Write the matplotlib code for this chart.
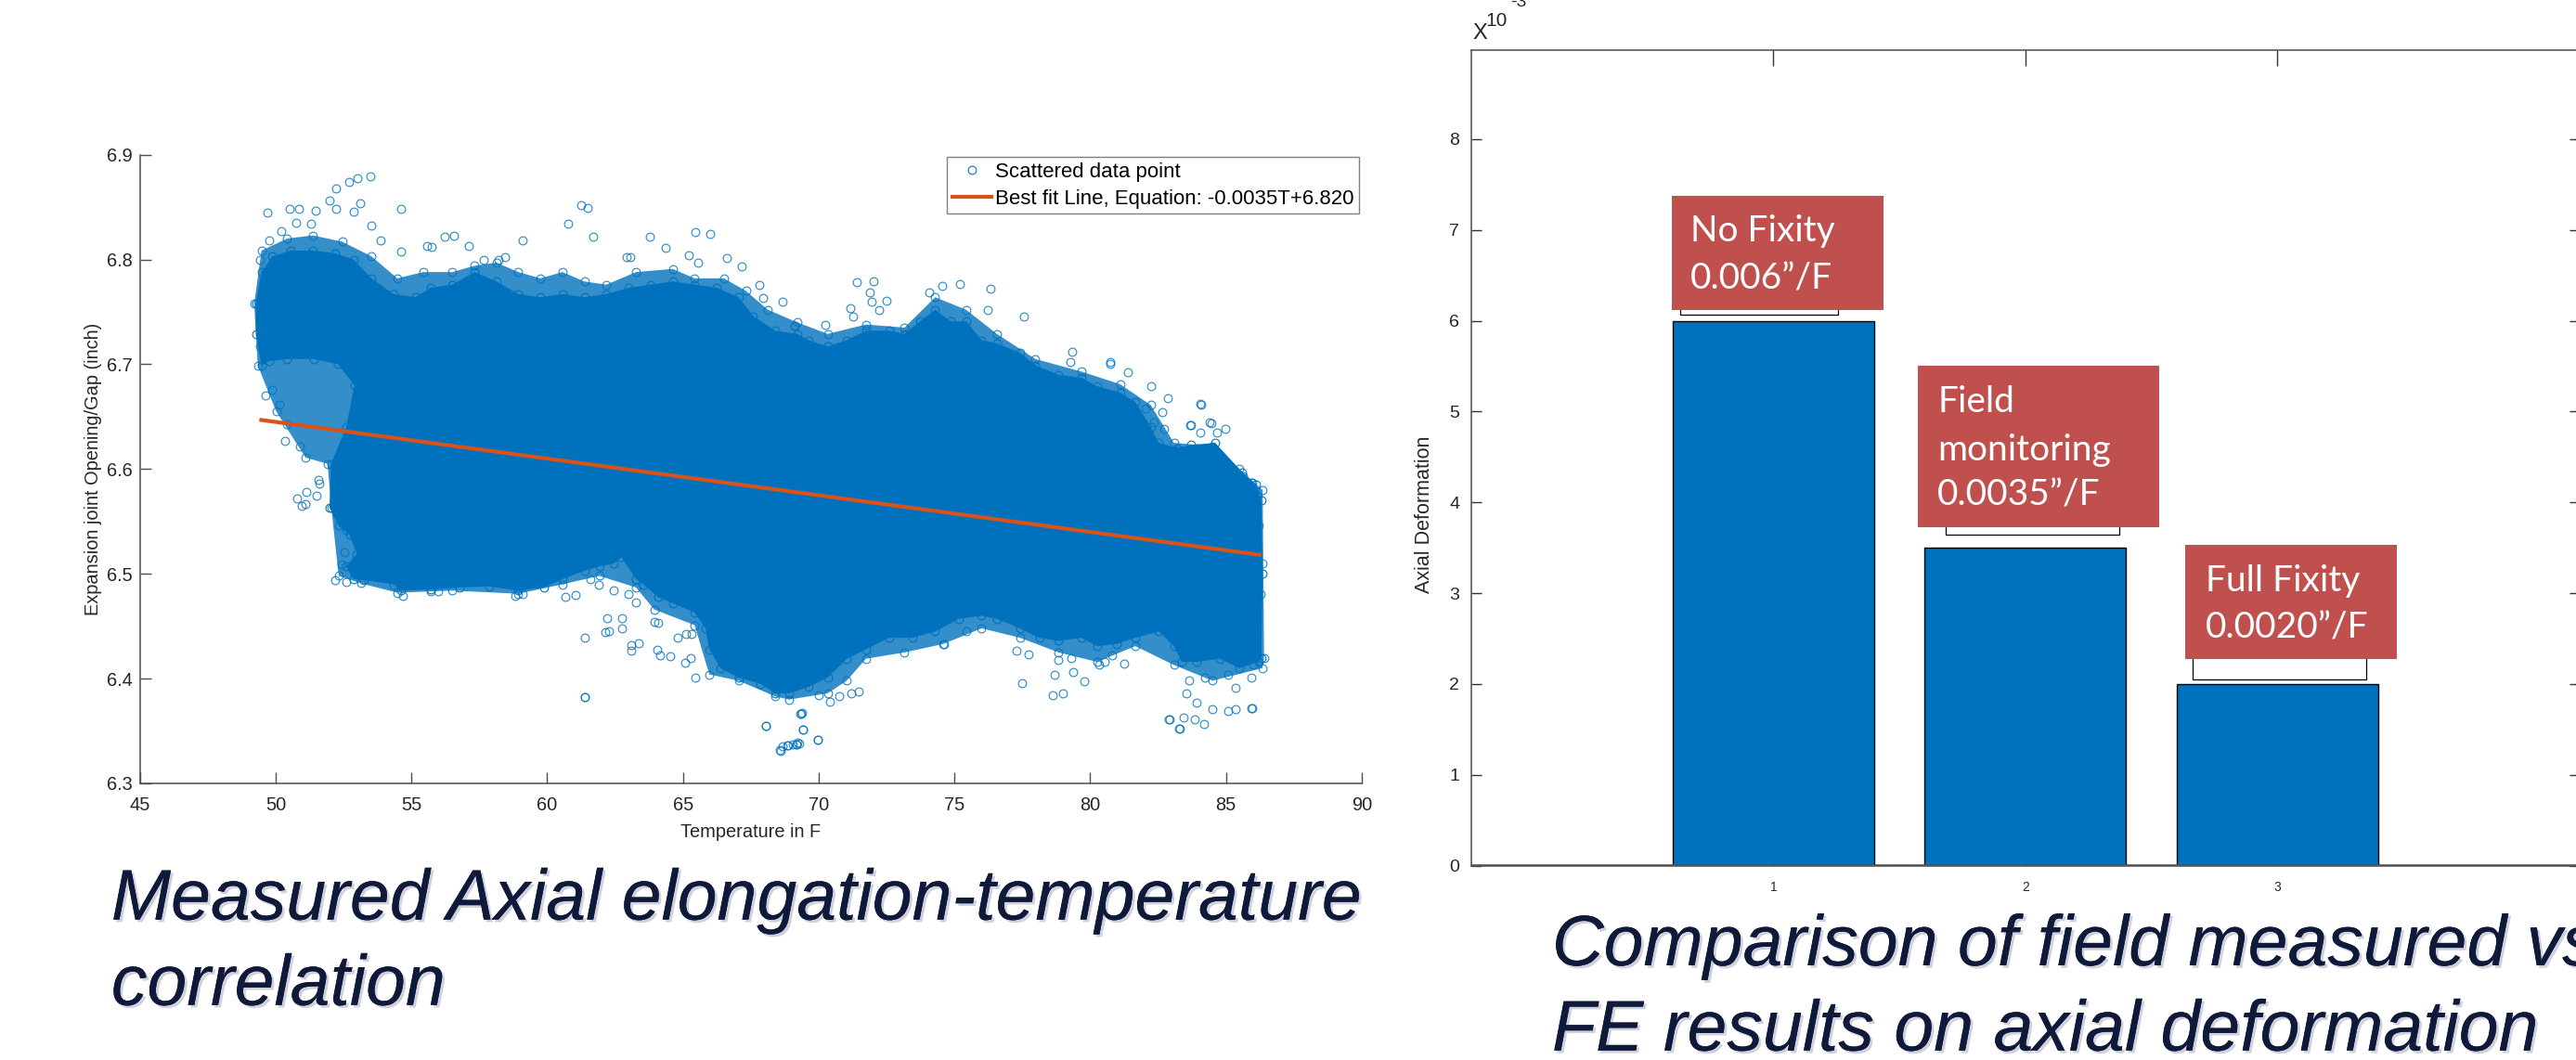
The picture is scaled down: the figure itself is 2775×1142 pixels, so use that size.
import matplotlib
matplotlib.use("Agg")
import matplotlib.pyplot as plt
import matplotlib.patches as mpatches
import matplotlib.patheffects as pe
from matplotlib.lines import Line2D
from matplotlib import font_manager
import numpy as np

names = {f.name for f in font_manager.fontManager.ttflist}
SANS = "Liberation Sans" if "Liberation Sans" in names else "DejaVu Sans"
NARROW = "Liberation Sans Narrow" if "Liberation Sans Narrow" in names else SANS
BOXFONT = "Lato" if "Lato" in names else SANS

BLUE = "#0072BD"
ORANGE = "#D95319"
RED_BOX = "#C0504D"
NAVY = "#0F1A3B"
AX_COL = "#262626"

# ---------------- left chart data ----------------
# outline of the solid (dense) part of the point cloud, clockwise
cloud_T = [49.48, 49.27, 49.27, 49.48, 49.88, 50.56, 51.37, 52.18, 52.86, 53.53,
           54.34, 55.15, 55.70, 56.51, 57.32, 58.13, 58.94, 59.75, 60.56, 61.37,
           62.18, 63.00, 63.81, 64.62, 65.43, 66.24, 67.05, 67.59, 68.40, 69.21,
           69.62, 70.33, 71.03, 71.74, 72.59, 73.16, 73.73, 74.29, 74.86, 75.43,
           76.00, 76.56, 77.41, 77.98, 78.83, 79.68, 80.25, 81.10, 81.66, 82.23,
           82.52, 83.20, 83.70, 84.60, 85.60, 86.10, 86.30, 86.35, 86.30,
           86.20, 85.49, 84.78, 83.93, 83.37, 83.08, 82.52, 81.66, 80.96, 80.25,
           79.68, 78.83, 78.12, 77.41, 76.56, 76.00, 75.15, 74.29, 73.44, 72.59,
           71.74, 71.03, 70.33, 69.62, 68.91, 68.40, 67.86, 67.05, 66.38, 65.97,
           65.83, 65.43, 64.62, 64.08, 63.54, 63.27, 62.73, 62.46, 61.92, 61.37,
           60.56, 59.89, 58.94, 57.86, 56.78, 55.70, 54.61, 54.34, 53.26, 52.86,
           52.59, 52.99, 52.72, 52.32, 51.98, 52.04, 52.60, 52.90, 52.30, 51.40,
           50.40, 49.75]
cloud_G = [6.699, 6.729, 6.758, 6.788, 6.803, 6.8085, 6.8085, 6.806, 6.800, 6.782,
           6.767, 6.764, 6.773, 6.776, 6.788, 6.779, 6.767, 6.764, 6.767, 6.764,
           6.767, 6.773, 6.776, 6.779, 6.776, 6.773, 6.764, 6.746, 6.732, 6.729,
           6.723, 6.717, 6.723, 6.732, 6.732, 6.729, 6.741, 6.752, 6.741, 6.741,
           6.723, 6.720, 6.711, 6.699, 6.690, 6.687, 6.679, 6.673, 6.664, 6.640,
           6.625, 6.620, 6.623, 6.625, 6.597, 6.585, 6.570, 6.500, 6.420,
           6.416, 6.410, 6.419, 6.416, 6.416, 6.431, 6.445, 6.439, 6.433, 6.431,
           6.439, 6.436, 6.439, 6.448, 6.457, 6.460, 6.457, 6.445, 6.439, 6.439,
           6.428, 6.419, 6.401, 6.392, 6.386, 6.386, 6.395, 6.401, 6.410, 6.428,
           6.448, 6.463, 6.472, 6.478, 6.490, 6.495, 6.516, 6.510, 6.507, 6.503,
           6.495, 6.487, 6.484, 6.488, 6.487, 6.485, 6.484, 6.490, 6.494, 6.495,
           6.507, 6.519, 6.537, 6.546, 6.563, 6.605, 6.640, 6.680, 6.700, 6.705,
           6.705, 6.703]

# outline of the looser fringe of overlapping circles around the cloud
fringe_T = [49.21, 49.48, 50.42, 51.37, 52.45, 53.53, 54.48, 55.43, 56.51, 57.32,
            58.13, 58.94, 59.75, 60.56, 61.37, 62.18, 63.27, 64.62, 65.43, 66.51,
            67.32, 68.13, 69.21, 70.33, 71.74, 73.16, 74.29, 75.43, 76.56, 77.98,
            79.68, 81.10, 82.23, 83.08, 84.50, 85.50, 86.35, 86.40,
            86.34, 84.50, 83.08, 81.66, 80.25, 78.83, 77.41, 76.00, 74.58, 73.16,
            71.74, 71.03, 70.33, 68.91, 68.40, 67.05, 65.97, 65.43, 63.94, 63.27,
            61.92, 60.56, 58.94, 56.51, 54.48, 53.13, 52.32, 52.05, 51.91, 51.10,
            50.02, 49.34]
fringe_G = [6.758, 6.8085, 6.820, 6.823, 6.817, 6.803, 6.782, 6.788, 6.788, 6.794,
            6.797, 6.788, 6.782, 6.788, 6.779, 6.776, 6.788, 6.791, 6.782, 6.782,
            6.770, 6.752, 6.740, 6.729, 6.738, 6.735, 6.764, 6.752, 6.729, 6.705,
            6.693, 6.681, 6.661, 6.625, 6.622, 6.600, 6.580, 6.420,
            6.410, 6.398, 6.413, 6.431, 6.416, 6.425, 6.439, 6.448, 6.433, 6.425,
            6.419, 6.398, 6.386, 6.380, 6.383, 6.398, 6.404, 6.451, 6.466, 6.487,
            6.498, 6.490, 6.481, 6.484, 6.482, 6.491, 6.498, 6.563, 6.605, 6.611,
            6.655, 6.699]

# isolated points outside the cloud
out_T = [49.71, 50.52, 50.87, 51.48, 51.98, 52.22, 52.69, 53.01, 53.48, 52.22,
         52.86, 53.11, 54.61, 61.24, 61.50, 60.77, 61.71, 63.77, 65.47, 66.01,
         59.10, 49.75, 50.22, 53.53, 53.86, 56.55, 56.24, 64.35, 66.62, 67.16,
         67.80, 67.96, 69.12, 68.67, 62.93, 63.06, 65.20, 65.56, 57.10, 54.63,
         55.57, 55.76, 58.22, 57.66, 58.43, 50.75, 51.30, 49.41, 49.48, 49.41,
         49.61, 49.88, 50.36, 50.90, 50.42, 50.15,
         71.39, 72.03, 71.89, 71.94, 72.48, 72.22, 71.15, 71.28, 69.12, 70.23,
         75.21, 76.31, 74.54, 74.08, 77.55, 76.21, 79.33, 79.26, 80.74, 82.23,
         82.87, 84.07, 83.72, 84.47, 84.67, 84.06, 82.66, 82.73,
         61.39, 61.39, 62.21, 62.13, 62.29, 62.75, 62.75, 63.09, 63.36, 63.09,
         64.05, 64.145, 64.54, 64.82, 65.12, 65.31, 65.46, 65.09, 65.29, 68.04,
         69.35, 69.43, 68.58, 68.67, 68.84, 69.17, 69.28, 50.79, 51.14, 51.57,
         51.60, 51.51, 50.96, 51.10, 52.19, 52.60, 52.52, 52.42, 52.61, 61.05,
         60.67, 54.67, 55.70, 55.99, 58.82, 59.08, 63.94, 64.08, 63.27, 63.00,
         62.46, 61.915, 61.58,
         69.33, 69.42, 69.97, 69.19, 69.05, 70.00, 70.42, 70.75, 71.18, 71.46,
         77.48, 78.62, 78.99, 79.77, 78.69, 79.37, 77.27, 77.71, 79.31, 78.83,
         74.61, 75.43, 82.94, 83.27, 84.19, 83.55, 83.93, 85.07, 85.92, 85.35,
         83.44, 83.86, 84.50, 85.35, 83.65, 84.22, 85.07, 85.92, 85.99, 80.53,
         80.81, 81.24, 80.32, 86.27, 86.34, 86.20, 86.13, 85.92, 85.56, 85.07,
         83.66, 84.38, 84.05, 84.97, 85.62, 85.95, 82.03, 82.35, 81.37, 80.72,
         83.08, 83.93, 84.22, 84.50, 68.04, 68.60, 68.86, 69.20, 69.40, 69.97,
         61.37, 82.90, 83.30, 85.95]
out_G = [6.845, 6.848, 6.848, 6.847, 6.856, 6.868, 6.874, 6.878, 6.879, 6.848,
         6.846, 6.854, 6.848, 6.852, 6.849, 6.834, 6.822, 6.822, 6.826, 6.824,
         6.818, 6.818, 6.827, 6.832, 6.818, 6.823, 6.822, 6.811, 6.801, 6.793,
         6.776, 6.763, 6.737, 6.760, 6.802, 6.802, 6.804, 6.797, 6.813, 6.808,
         6.813, 6.812, 6.800, 6.800, 6.802, 6.835, 6.834, 6.800, 6.761, 6.717,
         6.670, 6.676, 6.627, 6.622, 6.643, 6.661,
         6.778, 6.779, 6.769, 6.760, 6.761, 6.752, 6.754, 6.746, 6.737, 6.738,
         6.777, 6.772, 6.775, 6.769, 6.746, 6.752, 6.712, 6.702, 6.702, 6.679,
         6.668, 6.661, 6.642, 6.644, 6.635, 6.635, 6.654, 6.638,
         6.439, 6.382, 6.458, 6.444, 6.445, 6.458, 6.448, 6.432, 6.434, 6.427,
         6.428, 6.422, 6.421, 6.439, 6.443, 6.443, 6.401, 6.415, 6.420, 6.355,
         6.366, 6.351, 6.332, 6.335, 6.336, 6.337, 6.338, 6.572, 6.578, 6.590,
         6.586, 6.575, 6.565, 6.567, 6.494, 6.492, 6.521, 6.509, 6.542, 6.480,
         6.478, 6.479, 6.483, 6.483, 6.479, 6.481, 6.454, 6.453, 6.473, 6.481,
         6.484, 6.490, 6.495,
         6.366, 6.351, 6.342, 6.337, 6.337, 6.384, 6.378, 6.383, 6.386, 6.388,
         6.396, 6.384, 6.386, 6.397, 6.404, 6.406, 6.427, 6.423, 6.420, 6.418,
         6.433, 6.445, 6.361, 6.352, 6.357, 6.386, 6.377, 6.369, 6.372, 6.391,
         6.363, 6.361, 6.371, 6.371, 6.398, 6.401, 6.404, 6.401, 6.413, 6.416,
         6.422, 6.414, 6.413, 6.481, 6.510, 6.546, 6.575, 6.587, 6.584, 6.590,
         6.642, 6.645, 6.662, 6.638, 6.593, 6.587, 6.658, 6.645, 6.692, 6.700,
         6.617, 6.620, 6.611, 6.602, 6.355, 6.331, 6.336, 6.339, 6.367, 6.342,
         6.382, 6.361, 6.352, 6.372]

fit_slope = -0.0035
fit_intercept = 6.820
fit_T = [49.4, 86.3]

x_ticks_left = [45, 50, 55, 60, 65, 70, 75, 80, 85, 90]
y_ticks_left = [6.3, 6.4, 6.5, 6.6, 6.7, 6.8, 6.9]

# ---------------- right chart data ----------------
bar_pos = [1, 2, 3]
bar_vals = [0.006, 0.0035, 0.0020]
y_ticks_right = [0, 0.001, 0.002, 0.003, 0.004, 0.005, 0.006, 0.007, 0.008]
y_ticklabels_right = ["0", "1", "2", "3", "4", "5", "6", "7", "8"]
box_lines = [["No Fixity", "0.006\u201d/F"],
             ["Field", "monitoring", "0.0035\u201d/F"],
             ["Full Fixity", "0.0020\u201d/F"]]

caption_left = ["Measured Axial elongation-temperature", "correlation"]
caption_right = ["Comparison of field measured vs", "FE results on axial deformation"]

# ====================================================================
fig = plt.figure(figsize=(27.75, 11.42), dpi=100)
fig.patch.set_facecolor("white")

MS = 6.3
# ---------------- left scatter chart ----------------
ax = fig.add_axes([0.05431, 0.26095, 0.47434, 0.59308])
ax.fill(fringe_T, fringe_G, color=BLUE, alpha=0.8, lw=0, zorder=1.8)
ax.plot(fringe_T, fringe_G, ls="none", marker="o", ms=MS, mfc="none",
        mec=BLUE, mew=0.8, alpha=0.85, zorder=1.9)
ax.fill(cloud_T, cloud_G, color=BLUE, lw=0, zorder=2)
ax.plot(cloud_T, cloud_G, ls="none", marker="o", ms=MS, mfc="none",
        mec=BLUE, mew=0.8, zorder=2.5)
ax.plot(out_T, out_G, ls="none", marker="o", ms=MS, mfc="none",
        mec=BLUE, mew=0.8, alpha=0.85, zorder=2.5)
fit_T_arr = np.array(fit_T)
ax.plot(fit_T_arr, fit_slope * fit_T_arr + fit_intercept, color=ORANGE, lw=3.0,
        zorder=3, solid_capstyle="butt")

ax.set_xlim(45, 90)
ax.set_ylim(6.3, 6.9)
ax.set_xticks(x_ticks_left)
ax.set_yticks(y_ticks_left)
ax.set_yticklabels([f"{v:.1f}" for v in y_ticks_left])
for s in ["top", "right"]:
    ax.spines[s].set_visible(False)
for s in ["left", "bottom"]:
    ax.spines[s].set_color("#4d4d4d")
    ax.spines[s].set_linewidth(1.1)
ax.tick_params(direction="in", length=8.4, width=1.0, color="#4d4d4d",
               labelsize=14.4, labelcolor=AX_COL)
ax.tick_params(axis="x", pad=10)
ax.tick_params(axis="y", pad=6)
for lab in ax.get_xticklabels() + ax.get_yticklabels():
    lab.set_fontfamily(SANS)
ax.set_xlabel("Temperature in F", fontsize=14.4, family=SANS, color=AX_COL)
ax.set_ylabel("Expansion joint Opening/Gap (inch)", fontsize=14.4, family=SANS,
              color=AX_COL)
ax.xaxis.set_label_coords(0.5, -0.063)
ax.yaxis.set_label_coords(-0.031, 0.5)

handles = [Line2D([], [], ls="none", marker="o", ms=MS, mfc="none", mec=BLUE, mew=0.8),
           Line2D([], [], color=ORANGE, lw=3.0)]
leg = ax.legend(handles, ["Scattered data point",
                          "Best fit Line, Equation: -0.0035T+6.820"],
                loc="upper right", prop={"family": SANS, "size": 16},
                frameon=True, fancybox=False, framealpha=1, edgecolor="#7f7f7f",
                borderaxespad=0.12, borderpad=0.25, handlelength=1.9,
                handletextpad=0.2, labelspacing=0.35)
leg.get_frame().set_linewidth(1.0)

# ---------------- right bar chart ----------------
bx = fig.add_axes([0.5710, 0.18336, 0.4305, 0.7694])
bx.bar(bar_pos, bar_vals, width=0.8, color=BLUE, edgecolor="black", lw=1.0, zorder=2)
bx.axhline(0, color="#555555", lw=2.6, zorder=3)
bx.set_xlim(-0.2, 4.2)
bx.set_ylim(0, 0.00898)
bx.set_xticks(bar_pos)
bx.set_xticklabels([str(p) for p in bar_pos])
bx.set_yticks(y_ticks_right)
bx.set_yticklabels(y_ticklabels_right)
for s in bx.spines.values():
    s.set_color("#4d4d4d")
    s.set_linewidth(1.1)
bx.tick_params(direction="in", top=True, right=True, color="#333333", width=1.0,
               labelcolor=AX_COL)
bx.tick_params(axis="y", length=8, labelsize=14, pad=9)
bx.tick_params(axis="x", length=12, labelsize=10, pad=12)
for lab in bx.get_xticklabels() + bx.get_yticklabels():
    lab.set_fontfamily(NARROW)
bx.text(-0.0415, 0.431, "Axial Deformation", transform=bx.transAxes, rotation=90,
        ha="center", va="center", fontsize=15.5, family=SANS, color=AX_COL)

# scale factor label (x10^-3), exponent cut by the top edge as in the picture
fig.text(1594 / 2775, 1 - 36 / 1142, "X", ha="center", va="center", fontsize=17,
         family=NARROW, color=AX_COL)
fig.text(1612 / 2775, 1 - 22 / 1142, "10", ha="center", va="center", fontsize=15,
         family=NARROW, color=AX_COL)
fig.text(1636 / 2775, 1 - 7 / 1142, "-3", ha="center", va="baseline", fontsize=14,
         family=NARROW, color=AX_COL)

# MATLAB text boxes (partly hidden) and the red annotation boxes
white_rects = [(0.6523, 0.7032, 0.0612, 0.03),
               (0.7553, 0.4956, 0.0674, 0.03),
               (0.8512, 0.3590, 0.0674, 0.04)]
for (x0, y0, w, h) in white_rects:
    fig.add_artist(mpatches.Rectangle((x0, y0), w, h, transform=fig.transFigure,
                                      facecolor="white", edgecolor="black", lw=0.9,
                                      zorder=4))
red_boxes = [(0.6490, 0.7075, 0.0822, 0.1077),
             (0.7445, 0.5026, 0.0937, 0.1524),
             (0.8483, 0.3783, 0.0822, 0.1077)]
for (x0, y0, w, h) in red_boxes:
    fig.add_artist(mpatches.Rectangle((x0, y0), w, h, transform=fig.transFigure,
                                      facecolor=RED_BOX, edgecolor="none", zorder=5))
text_x = [0.6562, 0.7521, 0.8562]
text_base = [[0.7723, 0.7268], [0.6112, 0.5657, 0.5228], [0.4422, 0.3984]]
for lines, tx, bases in zip(box_lines, text_x, text_base):
    for line, by in zip(lines, bases):
        t = fig.text(tx, by, line, ha="left", va="baseline", fontsize=28,
                     family=BOXFONT, color="white")
        t.set_zorder(6)

# ---------------- captions ----------------
shadow = [pe.withSimplePatchShadow(offset=(2, -2), shadow_rgbFace="#9a9ab5", alpha=0.45),
          pe.Normal()]
fig.text(0.0432, 0.1325, caption_left[0], ha="left", va="baseline", fontsize=55.5,
         family=SANS, style="italic", color=NAVY, path_effects=shadow)
fig.text(0.0432, 0.0519, caption_left[1], ha="left", va="baseline", fontsize=55.5,
         family=SANS, style="italic", color=NAVY, path_effects=shadow)
fig.text(0.6025, 0.0893, caption_right[0], ha="left", va="baseline", fontsize=55.5,
         family=SANS, style="italic", color=NAVY, path_effects=shadow)
fig.text(0.6025, 0.0090, caption_right[1], ha="left", va="baseline", fontsize=55.5,
         family=SANS, style="italic", color=NAVY, path_effects=shadow)

fig.savefig("out.png", dpi=100, facecolor="white")
